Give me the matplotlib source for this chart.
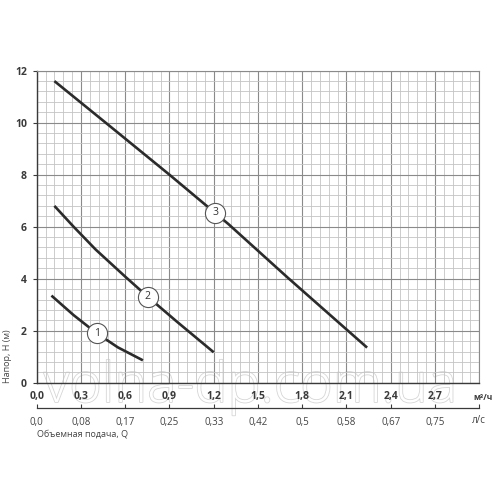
import matplotlib
matplotlib.use("Agg")
import matplotlib.pyplot as plt
import matplotlib.patheffects as pe
from matplotlib.ticker import MultipleLocator, FixedLocator

plt.rcParams['font.family'] = ['Open Sans', 'DejaVu Sans']

# Data (Q in m3/h, H in m)
q1 = [0.10, 0.25, 0.40, 0.55, 0.72]
h1 = [3.35, 2.60, 1.93, 1.36, 0.86]
q2 = [0.12, 0.25, 0.40, 0.60, 0.75, 0.95, 1.20]
h2 = [6.80, 6.00, 5.12, 4.08, 3.32, 2.35, 1.17]
q3 = [0.12, 0.50, 0.90, 1.30, 1.70, 2.00, 2.24]
h3 = [11.60, 9.85, 8.00, 6.10, 4.05, 2.55, 1.35]

labels = ['1', '2', '3']
label_q = [0.406, 0.752, 1.21]
label_h = [1.90, 3.31, 6.53]

x_ticks = [0.0, 0.3, 0.6, 0.9, 1.2, 1.5, 1.8, 2.1, 2.4, 2.7]
x_tick_labels = ['0,0', '0,3', '0,6', '0,9', '1,2', '1,5', '1,8', '2,1', '2,4', '2,7']
ls_ticks_m3h = [0.0, 0.3, 0.6, 0.9, 1.2, 1.5, 1.8, 2.1, 2.4, 2.7, 3.0]
ls_labels = ['0,0', '0,08', '0,17', '0,25', '0,33', '0,42', '0,5', '0,58', '0,67', '0,75', '']
y_ticks = [0, 2, 4, 6, 8, 10, 12]

fig = plt.figure(figsize=(5, 5), dpi=100)
fig.patch.set_facecolor('white')
ax = fig.add_axes([0.0734, 0.2346, 0.885, 0.624])
ax.patch.set_alpha(0.0)
ax.set_xlim(0, 3.0)
ax.set_ylim(0, 12)

ax.xaxis.set_major_locator(FixedLocator(x_ticks + [3.0]))
ax.xaxis.set_minor_locator(MultipleLocator(0.06))
ax.yaxis.set_major_locator(FixedLocator(y_ticks))
ax.yaxis.set_minor_locator(MultipleLocator(0.4))
ax.set_xticklabels(x_tick_labels + [''])
ax.set_yticklabels([str(v) for v in y_ticks])

ax.grid(which='minor', color='#c4c4c4', linewidth=0.6)
ax.grid(which='major', color='#8a8a8a', linewidth=0.8)
ax.set_axisbelow(True)

for s in ['top', 'right']:
    ax.spines[s].set_color('#8a8a8a')
    ax.spines[s].set_linewidth(0.8)
for s in ['left', 'bottom']:
    ax.spines[s].set_color('#3a3a3a')
    ax.spines[s].set_linewidth(1.0)

ax.tick_params(axis='x', which='both', length=0, pad=6, labelsize=7.5,
               labelcolor='#3a3a3a')
ax.tick_params(axis='y', which='major', length=3, width=0.8, color='#3a3a3a',
               pad=4, labelsize=7.5, labelcolor='#3a3a3a')
ax.tick_params(axis='y', which='minor', length=0)
for t in ax.get_xticklabels() + ax.get_yticklabels():
    t.set_fontweight('bold')

# curves
for q, h in [(q1, h1), (q2, h2), (q3, h3)]:
    ax.plot(q, h, color='#2b2b2b', linewidth=1.9, solid_capstyle='butt', zorder=3)

ax.scatter(label_q, label_h, s=210, facecolor='white', edgecolor='#555555',
           linewidth=0.8, zorder=4)
for lab, q, h in zip(labels, label_q, label_h):
    ax.text(q, h, lab, ha='center', va='center', fontsize=7.5, color='#333333', zorder=5)

# secondary axis in l/s
sec = ax.secondary_xaxis(-0.082, functions=(lambda v: v / 3.6, lambda v: v * 3.6))
sec.set_xticks([v / 3.6 for v in ls_ticks_m3h])
sec.set_xticklabels(ls_labels)
sec.tick_params(direction='in', length=3, width=0.8, color='#3a3a3a', pad=6,
                labelsize=7, labelcolor='#444444')
sec.spines['bottom'].set_color('#3a3a3a')
sec.spines['bottom'].set_linewidth(0.9)

# unit labels
ax.text(1.008, -0.047, 'м³/ч', transform=ax.transAxes, ha='center', va='center',
        fontsize=6, fontweight='bold', color='#3a3a3a')
ax.text(1.0, -0.12, 'л/с', transform=ax.transAxes, ha='center', va='center',
        fontsize=7, color='#444444')
ax.text(0.0, -0.166, 'Объемная подача, Q', transform=ax.transAxes, ha='left',
        va='center', fontsize=6.5, color='#444444')
ax.text(-0.065, 0.0, 'Напор, H (м)', transform=ax.transAxes, ha='center',
        va='bottom', rotation=90, fontsize=6.5, color='#444444')

# watermark (behind the axes content)
wm = fig.text(0.5, 0.225, 'volna-dp.com.ua', ha='center', va='center',
              fontsize=40, color='white', fontweight='light', zorder=-1)
wm.set_path_effects([pe.withStroke(linewidth=1.2, foreground='#d6d6d6')])

fig.savefig('out.png', dpi=100, facecolor='white')
